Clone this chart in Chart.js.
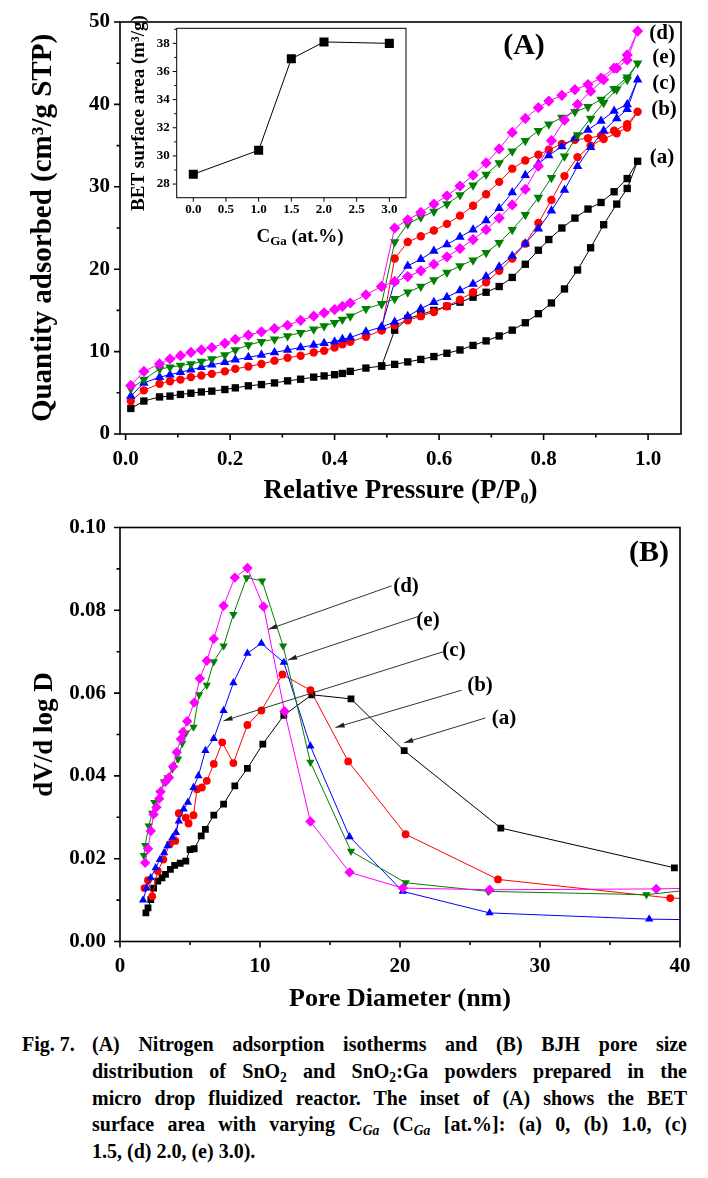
<!DOCTYPE html>
<html>
<head>
<meta charset="utf-8">
<script src="https://cdn.jsdelivr.net/npm/chart.js@4.4.1/dist/chart.umd.min.js"></script>
<style>
  body { margin: 0; background: #fff; }
  #page { position: relative; width: 708px; height: 1178px; overflow: hidden;
          font-family: 'Liberation Serif', 'Times New Roman', serif; font-weight: bold; color: #000; }
  canvas { position: absolute; }
  .lbl { position: absolute; transform: translate(-50%, -50%); white-space: nowrap; line-height: 1; }
  .cap { position: absolute; font-size: 20px; line-height: 26px; white-space: nowrap; }
  .just { text-align: justify; text-align-last: justify; white-space: normal; }
  sub { font-size: 0.68em; line-height: 0; vertical-align: -0.28em; }
</style>
</head>
<body>
<div id="page">
  <canvas id="chartA" width="708" height="510" style="left:0;top:0"></canvas>
  <canvas id="chartInset" width="320" height="245" style="left:100px;top:0"></canvas>
  <canvas id="chartB" width="708" height="515" style="left:0;top:505px"></canvas>

  <div class="lbl" style="left:524px;top:44px;font-size:30px">(A)</div>
  <div class="lbl" style="left:662px;top:32px;font-size:21px">(d)</div>
  <div class="lbl" style="left:664px;top:56px;font-size:21px">(e)</div>
  <div class="lbl" style="left:664px;top:82px;font-size:21px">(c)</div>
  <div class="lbl" style="left:664px;top:108px;font-size:21px">(b)</div>
  <div class="lbl" style="left:662px;top:156px;font-size:21px">(a)</div>
  <div class="lbl" style="left:300px;top:235px;font-size:19px">C<sub>Ga</sub> (at.%)</div>

  <div class="lbl" style="left:649px;top:551px;font-size:30px">(B)</div>
  <div class="lbl" style="left:406px;top:585px;font-size:21px">(d)</div>
  <div class="lbl" style="left:428px;top:619px;font-size:21px">(e)</div>
  <div class="lbl" style="left:454px;top:649px;font-size:21px">(c)</div>
  <div class="lbl" style="left:480px;top:684px;font-size:21px">(b)</div>
  <div class="lbl" style="left:504px;top:717px;font-size:21px">(a)</div>

  <div class="cap" style="left:22px;top:1031px">Fig. 7.</div>
  <div class="cap just" style="left:92px;top:1031px;width:595px">(A) Nitrogen adsorption isotherms and (B) BJH pore size</div>
  <div class="cap just" style="left:92px;top:1058px;width:595px">distribution of SnO<sub>2</sub> and SnO<sub>2</sub>:Ga powders prepared in the</div>
  <div class="cap just" style="left:92px;top:1085px;width:595px">micro drop fluidized reactor. The inset of (A) shows the BET</div>
  <div class="cap just" style="left:92px;top:1111px;width:595px">surface area with varying C<sub><i>Ga</i></sub> (C<sub><i>Ga</i></sub> [at.%]: (a) 0, (b) 1.0, (c)</div>
  <div class="cap" style="left:92px;top:1138px">1.5, (d) 2.0, (e) 3.0).</div>
</div>

<script>
// ---- (A) isotherms: relative pressure, adsorption then desorption branch ----
const pAds = [0.01, 0.035, 0.065, 0.085, 0.105, 0.125, 0.145, 0.165, 0.19, 0.21, 0.235, 0.26, 0.285, 0.31,
              0.335, 0.36, 0.38, 0.40, 0.415, 0.43, 0.46, 0.49, 0.515, 0.54, 0.565, 0.59, 0.615, 0.64,
              0.665, 0.69, 0.715, 0.74, 0.765, 0.79, 0.815, 0.84, 0.865, 0.89, 0.915, 0.94, 0.96, 0.98];
const pDes = [0.96, 0.935, 0.91, 0.885, 0.86, 0.835, 0.81, 0.79, 0.765, 0.74, 0.715, 0.69, 0.665, 0.64,
              0.615, 0.59, 0.565, 0.54, 0.515, 0.49];

const adsA = [3.1, 4.0, 4.5, 4.6, 4.8, 4.95, 5.1, 5.2, 5.4, 5.6, 5.85, 6.0, 6.2, 6.45, 6.65, 6.9, 7.05, 7.2, 7.35, 7.6,
              8.0, 8.25, 8.45, 8.75, 9.05, 9.4, 9.8, 10.2, 10.75, 11.3, 11.9, 12.6, 13.5, 14.6, 15.9, 17.6, 19.9, 22.6,
              25.4, 27.9, 29.8, 33.1];
const desA = [31.0, 29.4, 28.1, 27.3, 26.2, 25.0, 23.6, 22.3, 20.6, 19.0, 17.9, 17.2, 16.6, 16.0, 15.5, 15.0, 14.5,
              14.0, 12.6, 8.25];
const adsB = [4.0, 5.3, 6.1, 6.4, 6.6, 6.9, 7.1, 7.3, 7.6, 7.9, 8.2, 8.5, 8.9, 9.25, 9.5, 9.9, 10.1, 10.5, 10.9, 11.2,
              11.8, 12.6, 13.2, 13.8, 14.3, 14.8, 15.5, 16.3, 17.2, 18.4, 19.8, 21.3, 23.1, 25.6, 28.4, 31.3, 33.6,
              35.0, 35.8, 36.5, 37.2, 39.1];
const desB = [37.6, 36.8, 36.2, 35.9, 35.7, 35.2, 34.5, 33.9, 33.2, 32.2, 30.6, 29.1, 27.7, 26.5, 25.5, 24.7, 24.0,
              23.3, 21.3, 12.6];
const adsC = [4.6, 6.2, 6.9, 7.2, 7.5, 7.8, 8.1, 8.4, 8.7, 9.0, 9.3, 9.6, 9.9, 10.2, 10.5, 10.8, 11.0, 11.2, 11.5, 11.7,
              12.4, 13.0, 13.6, 14.3, 15.2, 16.0, 16.6, 17.4, 18.2, 19.1, 20.3, 21.6, 23.1, 24.9, 27.1, 29.6, 32.5,
              34.8, 36.8, 38.3, 39.4, 43.0];
const desC = [40.0, 39.2, 38.0, 36.9, 35.9, 34.9, 33.8, 32.8, 31.4, 29.3, 27.4, 25.9, 24.8, 23.9, 23.0, 22.2, 21.2,
              20.4, 18.5, 13.0];
const adsD = [5.9, 7.6, 8.5, 9.1, 9.5, 9.9, 10.2, 10.5, 11.0, 11.5, 12.0, 12.4, 12.8, 13.2, 13.8, 14.3, 14.7, 15.1,
              15.5, 15.9, 16.9, 17.9, 18.5, 19.1, 19.8, 20.6, 21.5, 22.5, 23.6, 24.8, 26.2, 27.8, 29.7, 32.5, 35.6,
              38.1, 40.0, 41.6, 43.0, 44.4, 45.4, 48.9];
const desD = [46.0, 44.4, 43.2, 42.4, 41.8, 41.1, 40.4, 39.6, 38.3, 36.6, 34.6, 32.9, 31.4, 30.1, 28.9, 27.9, 26.9,
              26.0, 25.0, 17.9];
const adsE = [5.5, 6.6, 7.9, 8.1, 8.3, 8.5, 8.8, 9.1, 9.6, 10.2, 10.8, 11.2, 11.5, 11.9, 12.3, 12.7, 13.1, 13.5, 13.9,
              14.3, 15.2, 15.8, 16.4, 17.2, 17.9, 18.7, 19.6, 20.4, 21.1, 22.0, 23.2, 24.8, 26.6, 28.7, 31.1, 33.7,
              36.3, 38.3, 40.2, 41.8, 43.0, 45.0];
const desE = [43.3, 41.9, 40.6, 39.7, 39.1, 38.4, 37.6, 36.8, 35.6, 34.3, 32.9, 31.5, 30.2, 29.0, 27.9, 27.0, 26.3,
              25.5, 23.3, 15.8];

const pressureTicks = [0, 0.2, 0.4, 0.6, 0.8, 1.0];
const quantityTicks = [0, 10, 20, 30, 40, 50];

// ---- inset: BET surface area ----
const cGa = [0, 1.0, 1.5, 2.0, 3.0];
const betArea = [28.7, 30.4, 36.9, 38.1, 38.0];
const cGaTicks = [0, 0.5, 1.0, 1.5, 2.0, 2.5, 3.0];
const betTicks = [28, 30, 32, 34, 36, 38];

// ---- (B) BJH pore size distribution ----
const poreA = [1.85, 2.0, 2.2, 2.4, 2.7, 3.0, 3.25, 3.6, 3.9, 4.3, 4.7, 5.0, 5.3, 5.8, 6.1, 6.7, 7.4, 8.2, 9.1, 10.2,
               11.7, 13.7, 16.5, 20.3, 27.2, 39.6];
const dvA = [0.0069, 0.0081, 0.0101, 0.0129, 0.0146, 0.0154, 0.0162, 0.0174, 0.0184, 0.0189, 0.0194, 0.0222, 0.0224,
             0.0255, 0.0271, 0.0305, 0.0332, 0.0376, 0.0418, 0.0477, 0.0546, 0.0596, 0.0586, 0.0461, 0.0274, 0.0178];
const poreB = [1.75, 2.0, 2.3, 2.7, 3.1, 3.55, 3.95, 4.2, 4.7, 4.9, 5.25, 5.5, 5.85, 6.2, 6.7, 7.3, 8.1, 9.1, 10.1,
               11.6, 13.6, 16.3, 20.4, 27.0, 39.3, 40];
const dvB = [0.0129, 0.0148, 0.0109, 0.0170, 0.0198, 0.0235, 0.0243, 0.0310, 0.0299, 0.0285, 0.0305, 0.0368, 0.0372,
             0.0388, 0.0429, 0.0481, 0.0431, 0.0523, 0.0558, 0.0645, 0.0607, 0.0435, 0.0259, 0.0150, 0.0105, 0.0104];
const poreC = [1.65, 1.9, 2.2, 2.55, 2.85, 3.15, 3.4, 3.75, 4.0, 4.2, 4.55, 4.85, 5.25, 5.6, 6.1, 6.7, 7.4, 8.1, 9.1,
               10.1, 11.7, 13.6, 16.4, 20.2, 26.4, 37.8, 40];
const dvC = [0.0100, 0.0129, 0.0154, 0.0178, 0.0198, 0.0214, 0.0231, 0.0251, 0.0263, 0.0291, 0.0320, 0.0336, 0.0372,
             0.0400, 0.0461, 0.0490, 0.0558, 0.0625, 0.0696, 0.0720, 0.0674, 0.0472, 0.0253, 0.0121, 0.0069, 0.0054,
             0.0053];
const poreD = [1.8, 2.0, 2.2, 2.4, 2.6, 2.8, 2.9, 3.25, 3.5, 3.8, 4.05, 4.35, 4.5, 4.8, 5.3, 5.7, 6.2, 6.7, 7.4, 8.2,
               9.1, 10.25, 11.75, 13.6, 16.4, 20.2, 26.4, 38.3, 40];
const dvD = [0.0190, 0.0224, 0.0267, 0.0307, 0.0324, 0.0345, 0.0362, 0.0386, 0.0396, 0.0423, 0.0457, 0.0489, 0.0506,
             0.0532, 0.0577, 0.0635, 0.0678, 0.0731, 0.0811, 0.0879, 0.0902, 0.0809, 0.0556, 0.0290, 0.0167, 0.0129,
             0.0125, 0.0127, 0.0128];
const poreE = [1.7, 1.8, 2.05, 2.3, 2.45, 2.85, 3.15, 3.4, 3.75, 4.15, 4.45, 4.7, 5.25, 5.65, 6.2, 6.7, 7.4, 8.1, 9.05,
               10.15, 11.65, 13.6, 16.5, 20.4, 26.3, 37.6, 40];
const dvE = [0.0208, 0.0232, 0.0279, 0.0310, 0.0336, 0.0360, 0.0386, 0.0396, 0.0417, 0.0441, 0.0479, 0.0503, 0.0518,
             0.0596, 0.0619, 0.0676, 0.0714, 0.0790, 0.0879, 0.0871, 0.0714, 0.0433, 0.0218, 0.0142, 0.0121, 0.0113,
             0.0122];

const poreTicks = [0, 10, 20, 30, 40];
const dvTicks = [0, 0.02, 0.04, 0.06, 0.08, 0.10];

// arrows from the (d),(e),(c),(b),(a) labels to the curves, in data units
const arrowTail = [[19.4, 0.0859], [21.3, 0.0785], [23.1, 0.0700], [24.4, 0.0607], [26.1, 0.0540]];
const arrowHead = [[10.6, 0.0754], [12.0, 0.0680], [7.4, 0.0533], [15.4, 0.0517], [20.3, 0.0480]];

const BLACK = '#000000', RED = '#ff0000', BLUE = '#0000ff', GREEN = '#008000', MAGENTA = '#ff00ff';

Chart.defaults.font.family = "'Liberation Serif', 'Times New Roman', serif";
Chart.defaults.font.weight = 'bold';
Chart.defaults.color = '#000';

function steps(from, to, step) {
  const out = [];
  const n = Math.round((to - from) / step);
  for (let i = 0; i <= n; i++) out.push(+(from + i * step).toFixed(6));
  return out;
}

function loop(ads, des) {
  return pAds.map((p, i) => ({ x: p, y: ads[i] }))
    .concat(pDes.map((p, i) => ({ x: p, y: des[i] })));
}

function pairs(xs, ys) {
  return xs.map((x, i) => ({ x: x, y: ys[i] }));
}

function series(label, data, color, style, radius, rotation) {
  return {
    label: label,
    data: data,
    showLine: true,
    borderColor: color,
    borderWidth: 1,
    backgroundColor: color,
    pointStyle: style,
    pointRotation: rotation || 0,
    pointBackgroundColor: color,
    pointBorderWidth: 0,
    // line end at the right border has no symbol
    pointRadius: ctx => (ctx.raw && ctx.raw.x >= 40 ? 0 : radius)
  };
}

// box round the plot plus outward major/minor ticks
const frameTicks = {
  id: 'frameTicks',
  afterDatasetsDraw(chart, args, o) {
    const { ctx, chartArea: a } = chart;
    const sx = chart.scales.x, sy = chart.scales.y;
    ctx.save();
    ctx.strokeStyle = '#000';
    ctx.lineWidth = o.width;
    ctx.strokeRect(a.left, a.top, a.right - a.left, a.bottom - a.top);
    ctx.beginPath();
    (o.xMinor || []).forEach(v => {
      const p = sx.getPixelForValue(v);
      ctx.moveTo(p, a.bottom); ctx.lineTo(p, a.bottom + o.minorLen);
    });
    sx.ticks.forEach(t => {
      const p = sx.getPixelForValue(t.value);
      ctx.moveTo(p, a.bottom); ctx.lineTo(p, a.bottom + o.majorLen);
    });
    (o.yMinor || []).forEach(v => {
      const p = sy.getPixelForValue(v);
      ctx.moveTo(a.left, p); ctx.lineTo(a.left - o.minorLen, p);
    });
    sy.ticks.forEach(t => {
      const p = sy.getPixelForValue(t.value);
      ctx.moveTo(a.left, p); ctx.lineTo(a.left - o.majorLen, p);
    });
    ctx.stroke();
    ctx.restore();
  }
};

const arrows = {
  id: 'arrows',
  afterDatasetsDraw(chart) {
    const { ctx } = chart;
    const sx = chart.scales.x, sy = chart.scales.y;
    ctx.save();
    ctx.strokeStyle = '#333';
    ctx.fillStyle = '#222';
    ctx.lineWidth = 1;
    arrowTail.forEach((t, i) => {
      const x1 = sx.getPixelForValue(t[0]), y1 = sy.getPixelForValue(t[1]);
      const x2 = sx.getPixelForValue(arrowHead[i][0]), y2 = sy.getPixelForValue(arrowHead[i][1]);
      const ang = Math.atan2(y2 - y1, x2 - x1);
      ctx.beginPath();
      ctx.moveTo(x1, y1); ctx.lineTo(x2, y2);
      ctx.stroke();
      ctx.beginPath();
      ctx.moveTo(x2, y2);
      ctx.lineTo(x2 - 9 * Math.cos(ang) + 2.6 * Math.sin(ang), y2 - 9 * Math.sin(ang) - 2.6 * Math.cos(ang));
      ctx.lineTo(x2 - 9 * Math.cos(ang) - 2.6 * Math.sin(ang), y2 - 9 * Math.sin(ang) + 2.6 * Math.cos(ang));
      ctx.closePath();
      ctx.fill();
    });
    ctx.restore();
  }
};

function axis(min, max, ticks, fmt, fontSize, padding, size, horizontal, title, tickLen) {
  return {
    type: 'linear',
    min: min,
    max: max,
    afterBuildTicks: s => { s.ticks = ticks.map(v => ({ value: v })); },
    afterFit: s => { if (horizontal) s.height = size; else s.width = size; },
    grid: { display: false, drawTicks: true, tickLength: tickLen || 6 },
    border: { display: false },
    ticks: { autoSkip: false, maxRotation: 0, padding: padding, font: { size: fontSize },
             callback: v => fmt(v) },
    title: title
  };
}

const common = {
  responsive: false,
  animation: false,
  events: [],
  plugins: { legend: { display: false }, tooltip: { enabled: false } }
};

// (A) isotherms
new Chart(document.getElementById('chartA'), {
  type: 'scatter',
  data: {
    datasets: [
      series('(d)', loop(adsD, desD), MAGENTA, 'rectRot', 5.6, 0),
      series('(e)', loop(adsE, desE), GREEN, 'triangle', 5.5, 180),
      series('(c)', loop(adsC, desC), BLUE, 'triangle', 5.5, 0),
      series('(b)', loop(adsB, desB), RED, 'circle', 4.2, 0),
      series('(a)', loop(adsA, desA), BLACK, 'rect', 5.2, 0)
    ]
  },
  options: Object.assign({}, common, {
    layout: { padding: { top: 22, right: 27, left: 0, bottom: 0 } },
    plugins: Object.assign({}, common.plugins, {
      frameTicks: { width: 1.6, majorLen: 6, minorLen: 3.5,
                    xMinor: steps(0.1, 0.9, 0.2), yMinor: steps(5, 45, 10) }
    }),
    scales: {
      x: axis(-0.0107, 1.063, pressureTicks, v => v.toFixed(1), 21, 7, 76, true,
              { display: true, text: 'Relative Pressure (P/P\u2080)', font: { size: 27 },
                padding: { top: 0, bottom: 3 } }),
      y: axis(0, 50, quantityTicks, v => String(v), 21, 4, 120, false,
              { display: true, text: 'Quantity adsorbed (cm\u00b3/g STP)', font: { size: 29 },
                padding: { top: 26, bottom: 0 } })
    }
  }),
  plugins: [frameTicks]
});

// inset: BET surface area
new Chart(document.getElementById('chartInset'), {
  type: 'scatter',
  data: {
    datasets: [series('BET', pairs(cGa, betArea), BLACK, 'rect', 6.4, 0)]
  },
  options: Object.assign({}, common, {
    layout: { padding: { top: 28.3, right: 14, left: 0, bottom: 0 } },
    plugins: Object.assign({}, common.plugins, {
      frameTicks: { width: 1, majorLen: 4, minorLen: 2.5, xMinor: [], yMinor: steps(29, 39, 2) }
    }),
    scales: {
      x: axis(-0.254, 3.255, cGaTicks, v => v.toFixed(1), 13, 0, 47.3, true, { display: false }, 4),
      y: axis(27.03, 39.07, betTicks, v => String(v), 13, 3, 76.7, false,
              { display: true, text: 'BET surface area (m\u00b3/g)', font: { size: 19 },
                padding: { top: 28, bottom: 0 } }, 4)
    }
  }),
  plugins: [frameTicks]
});

// (B) pore size distribution
new Chart(document.getElementById('chartB'), {
  type: 'scatter',
  data: {
    datasets: [
      series('(d)', pairs(poreD, dvD), MAGENTA, 'rectRot', 5.2, 0),
      series('(e)', pairs(poreE, dvE), GREEN, 'triangle', 4.8, 180),
      series('(c)', pairs(poreC, dvC), BLUE, 'triangle', 4.8, 0),
      series('(b)', pairs(poreB, dvB), RED, 'circle', 3.9, 0),
      series('(a)', pairs(poreA, dvA), BLACK, 'rect', 4.8, 0)
    ]
  },
  options: Object.assign({}, common, {
    layout: { padding: { top: 22.5, right: 28, left: 0, bottom: 0 } },
    plugins: Object.assign({}, common.plugins, {
      frameTicks: { width: 1.6, majorLen: 6, minorLen: 3.5,
                    xMinor: steps(5, 35, 10), yMinor: steps(0.01, 0.09, 0.02) }
    }),
    scales: {
      x: axis(0, 40, poreTicks, v => String(v), 21, 6, 78.5, true,
              { display: true, text: 'Pore Diameter (nm)', font: { size: 26 },
                padding: { top: 0, bottom: 5 } }),
      y: axis(0, 0.1, dvTicks, v => v.toFixed(2), 21, 8, 120, false,
              { display: true, text: 'dV/d log D', font: { size: 27 },
                padding: { top: 29, bottom: 0 } })
    }
  }),
  plugins: [frameTicks, arrows]
});
</script>
</body>
</html>
